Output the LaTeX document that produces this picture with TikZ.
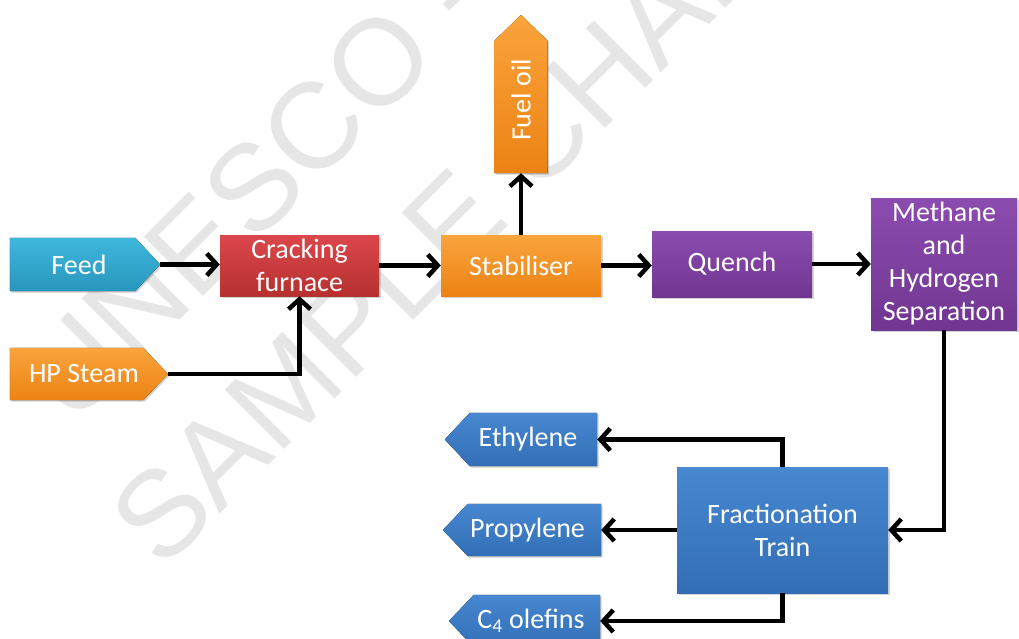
\documentclass[tikz,border=0pt]{standalone}
\usepackage{fontspec}
\setmainfont{Carlito}
\newfontfamily\wmfont{Liberation Sans}
\usetikzlibrary{arrows.meta,shadows}
\pgfdeclarelayer{background}
\pgfsetlayers{background,main}
\definecolor{feedT}{HTML}{3FB7DD}\definecolor{feedB}{HTML}{2896BC}
\definecolor{orT}{HTML}{FAA43C}\definecolor{orB}{HTML}{EC8314}
\definecolor{redT}{HTML}{DB474B}\definecolor{redB}{HTML}{B6302F}
\definecolor{puT}{HTML}{8B4CAF}\definecolor{puB}{HTML}{713691}
\definecolor{blT}{HTML}{4788D1}\definecolor{blB}{HTML}{326EB5}
\definecolor{wm}{HTML}{E6E6E6}
\tikzset{
  lbl/.style={text=white,font=\fontsize{28}{33}\selectfont,align=center,inner sep=0pt},
  shade3d/.style={drop shadow={shadow xshift=1.5pt,shadow yshift=-1.5pt,opacity=0.35}},
  box/.style={lbl,rectangle,shade3d},
  frame/.style={rectangle,inner sep=0pt},
  cyanfill/.style={top color=feedT,bottom color=feedB},
  orangefill/.style={top color=orT,bottom color=orB},
  redfill/.style={top color=redT,bottom color=redB},
  purplefill/.style={top color=puT,bottom color=puB},
  bluefill/.style={top color=blT,bottom color=blB},
  flow/.style={line width=4.5pt,-{Straight Barb[length=10pt,width=22pt]}},
  wmtext/.style={text=wm,font=\wmfont\fontsize{122}{122}\selectfont,inner sep=0pt}
}
\begin{document}
\begin{tikzpicture}[x=1pt,y=-1pt]
\useasboundingbox (0,0) rectangle (1019,639);
% arrow-shaped frames (shape drawn on background below)
\node[frame,minimum width=150pt,minimum height=53pt,label={[lbl,xshift=-6pt]center:Feed}] (feed) at (85,264.5) {};
\node[frame,minimum width=158pt,minimum height=52pt,label={[lbl,xshift=-5pt]center:HP Steam}] (steam) at (89,374) {};
\node[frame,minimum width=53pt,minimum height=158pt,label={[lbl,rotate=90,xshift=-6pt]center:Fuel oil}] (fuel) at (521,94) {};
\node[frame,minimum width=152pt,minimum height=53pt,label={[lbl,xshift=7pt]center:Ethylene}] (eth) at (521,439.5) {};
\node[frame,minimum width=158pt,minimum height=52pt,label={[lbl,xshift=5.5pt]center:Propylene}] (prop) at (522,530) {};
\node[frame,minimum width=151pt,minimum height=52pt,label={[lbl,xshift=6.5pt]center:C\textsubscript{4} olefins}] (c4) at (524.5,621) {};
% rectangular boxes
\node[box,redfill,minimum width=159pt,minimum height=61pt] (cf) at (299.5,265.5) {Cracking\\furnace};
\node[box,orangefill,minimum width=160pt,minimum height=61pt] (stab) at (521,265.5) {Stabiliser};
\node[box,purplefill,minimum width=160pt,minimum height=66pt] (quench) at (732,264) {Quench};
\node[box,purplefill,minimum width=146pt,minimum height=132pt] (mhs) at (944,264) {Methane\\and\\Hydrogen\\Separation};
\node[box,bluefill,minimum width=211pt,minimum height=126pt] (ft) at (782.5,530) {Fractionation\\Train};
\begin{pgfonlayer}{background}
% watermark
\node[wmtext,anchor=base west,rotate=45] (wm1) at (72,428) {UNESCO -- EOLSS};
\node[wmtext,anchor=base west,rotate=45] (wm2) at (162,572) {SAMPLE CHAPTERS};
% arrow shapes
\fill[cyanfill,shade3d] (feed.north west) -- ([xshift=-25pt]feed.north east) -- (feed.east) -- ([xshift=-25pt]feed.south east) -- (feed.south west) -- cycle;
\fill[orangefill,shade3d] (steam.north west) -- ([xshift=-25pt]steam.north east) -- (steam.east) -- ([xshift=-25pt]steam.south east) -- (steam.south west) -- cycle;
\fill[orangefill,shade3d] (fuel.south west) -- ([yshift=-26pt]fuel.north west) -- (fuel.north) -- ([yshift=-26pt]fuel.north east) -- (fuel.south east) -- cycle;
\fill[bluefill,shade3d] (eth.north east) -- ([xshift=25pt]eth.north west) -- (eth.west) -- ([xshift=25pt]eth.south west) -- (eth.south east) -- cycle;
\fill[bluefill,shade3d] (prop.north east) -- ([xshift=25pt]prop.north west) -- (prop.west) -- ([xshift=25pt]prop.south west) -- (prop.south east) -- cycle;
\fill[bluefill,shade3d] (c4.north east) -- ([xshift=25pt]c4.north west) -- (c4.west) -- ([xshift=25pt]c4.south west) -- (c4.south east) -- cycle;
\end{pgfonlayer}
% connectors
\draw[flow] (feed.east) -- (feed.east -| cf.west);
\draw[flow] (steam.east) -| (cf.south);
\draw[flow] (cf.east) -- (cf.east -| stab.west);
\draw[flow] (stab.north) -- (fuel.south);
\draw[flow] (stab.east) -- (stab.east -| quench.west);
\draw[flow] (quench.east) -- (quench.east -| mhs.west);
\draw[flow] (mhs.south) |- (ft.east);
\draw[flow] (ft.north) |- (eth.east);
\draw[flow] (ft.west) -- (ft.west -| prop.east);
\draw[flow] (ft.south) |- (c4.east);
\end{tikzpicture}
\end{document}
